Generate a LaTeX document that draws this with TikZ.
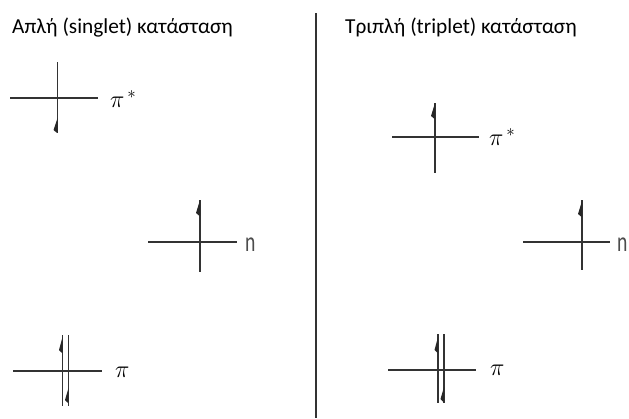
\documentclass[tikz,border=0pt]{standalone}
\usepackage{fontspec}
\setmainfont{Carlito}
\usetikzlibrary{positioning}
\tikzset{every picture/.style={>=latex}}

\begin{document}
\begin{tikzpicture}[
    x=0.03cm, y=-0.03cm,
    level/.style={line width=1.3pt, draw=black!80},
    spin/.style={fill=black!85},
    title/.style={anchor=base west, inner sep=0pt, font=\fontsize{18.2}{20}\selectfont},
    orb/.style={anchor=base west, inner sep=0pt, font=\fontsize{20}{22}\selectfont},
    nlab/.style={anchor=base west, inner sep=0pt, text=black!70,
                 font=\fontsize{24}{26}\selectfont, xscale=0.7}
]
\useasboundingbox (0,0) rectangle (629,418);

% ------------------------------------------------------------
% Titles and divider
% ------------------------------------------------------------
\node[title] (tsing) at (12,33) {Απλή (singlet) κατάσταση};
\node[title] (ttrip) at (345,33) {Τριπλή (triplet) κατάσταση};
\coordinate (divtop) at (316,13);
\coordinate (divbot) at (316,418);
\draw[level] (divtop) -- (divbot);

% ------------------------------------------------------------
% Singlet state
% ------------------------------------------------------------

% pi* level, one electron down
\draw[level] (10,98) -- (98,98);
\draw[level] (57.5,62) -- (57.5,133);
\fill[spin] (57.5,118) -- ++(-4,12) -- ++(3,2.5) -- ++(1,0) -- cycle;
\node[orb] (sPs) at (110,107) {$\pi^{\,*}$};

% n level, one electron up
\draw[level] (148,242) -- (237,242);
\draw[level] (200,200) -- (200,272);
\fill[spin] (200,200) -- ++(-4,13) -- ++(3,2.5) -- ++(1,0) -- cycle;
\node[nlab] (sN) at (245,251) {n};

% pi level, electron pair
\draw[level] (13,371) -- (102,371);
\draw[level] (62.5,335) -- (62.5,406);
\draw[level] (68.5,335) -- (68.5,406);
\fill[spin] (62.5,337) -- ++(-3.5,13) -- ++(2.5,2.5) -- ++(1,0) -- cycle;
\fill[spin] (68.5,388) -- ++(-3.5,12) -- ++(2.5,2.5) -- ++(1,0) -- cycle;
\node[orb] (sP) at (115,377) {$\pi$};

% ------------------------------------------------------------
% Triplet state
% ------------------------------------------------------------

% pi* level, one electron up
\draw[level] (392,137) -- (479,137);
\draw[level] (435,103) -- (435,173);
\fill[spin] (435,103) -- ++(-4,13) -- ++(3,2.5) -- ++(1,0) -- cycle;
\node[orb] (tPs) at (489,145) {$\pi^{\,*}$};

% n level, one electron up
\draw[level] (523,242) -- (610,242);
\draw[level] (582,200) -- (582,270);
\fill[spin] (582,201) -- ++(-4,13) -- ++(3,2.5) -- ++(1,0) -- cycle;
\node[nlab] (tN) at (617,251) {n};

% pi level, electron pair
\draw[level] (388,370) -- (476,370);
\draw[level] (438,334) -- (438,403);
\draw[level] (444,334) -- (444,403);
\fill[spin] (438,337) -- ++(-3.5,13) -- ++(2.5,2.5) -- ++(1,0) -- cycle;
\fill[spin] (444,387) -- ++(-3.5,12) -- ++(2.5,2.5) -- ++(1,0) -- cycle;
\node[orb] (tP) at (490,375) {$\pi$};

\end{tikzpicture}
\end{document}
